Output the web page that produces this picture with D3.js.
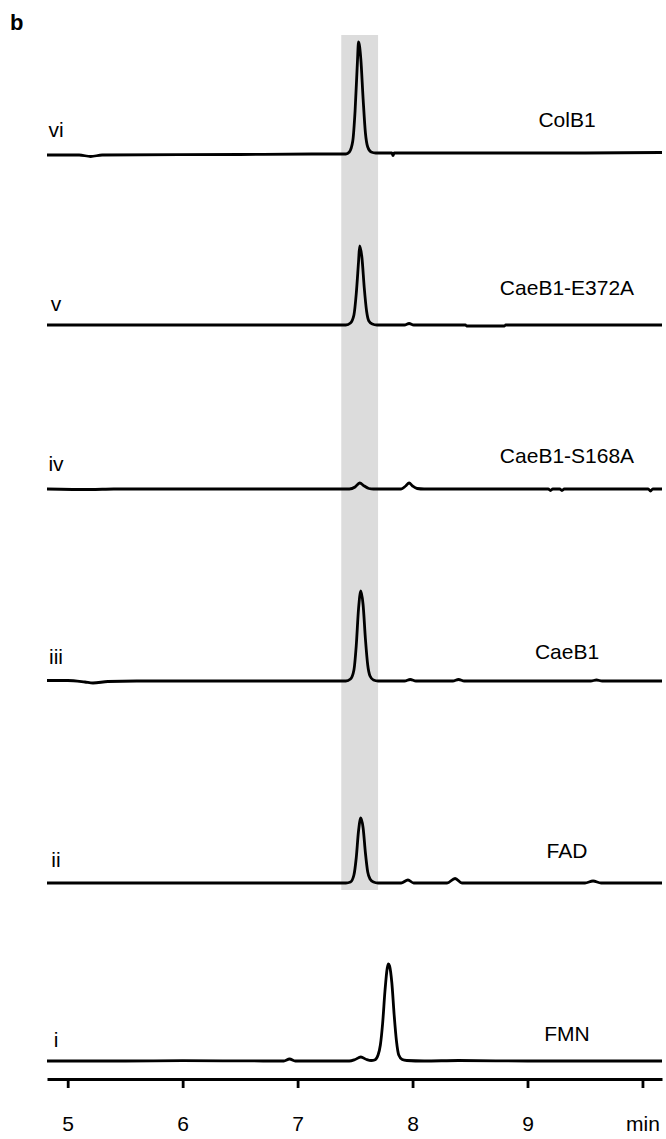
<!DOCTYPE html>
<html>
<head>
<meta charset="utf-8">
<script src="https://cdn.jsdelivr.net/npm/d3@7"></script>
<style>
  body { margin: 0; background: #fff; }
  text { font-family: "Liberation Sans", Arial, sans-serif; fill: #000; }
</style>
</head>
<body>
<script>
// retention time (min), signal above own baseline
const traceFMN = [[4.82,0],[5.5,0],[6.0,0.3],[6.7,0],[6.88,0],[6.93,2],[6.98,0],[7.45,0],[7.50,1.5],[7.55,4],[7.60,1.5],[7.64,0.5],[7.67,1],[7.70,6],[7.72,16],[7.74,38],[7.76,70],[7.78,93],[7.79,97],[7.80,95],[7.82,78],[7.84,46],[7.86,20],[7.88,6],[7.91,1.5],[7.95,0.5],[8.1,0],[8.4,0.5],[9,0],[10.17,0]];
const traceFAD = [[4.82,0],[5.2,0],[6,0],[7,0],[7.42,0],[7.46,1],[7.49,8],[7.51,25],[7.53,52],[7.55,65],[7.57,55],[7.59,30],[7.61,11],[7.63,4],[7.66,1],[7.70,0],[7.9,0],[7.96,3],[8.01,0],[8.3,0],[8.37,4.5],[8.43,0],[9.5,0],[9.57,2],[9.64,0],[10.17,0]];
const traceCaeB1 = [[4.82,0.5],[5.0,0.5],[5.15,-1],[5.22,-2],[5.35,-0.5],[5.6,0],[6.5,0],[7.42,0],[7.46,2],[7.49,11],[7.51,35],[7.53,72],[7.55,90],[7.57,76],[7.59,42],[7.61,16],[7.63,5],[7.66,1],[7.70,0],[7.93,0],[7.98,1.5],[8.03,0],[8.35,0],[8.40,1.5],[8.45,0],[9.55,0],[9.6,1],[9.65,0],[10.17,0]];
const traceS168A = [[4.82,0],[5.2,-0.5],[5.4,0],[7.45,0],[7.50,2],[7.54,6],[7.58,3],[7.62,0.5],[7.66,0],[7.90,0],[7.94,3],[7.97,6],[8.00,3],[8.04,0.5],[8.1,0],[9.18,0],[9.2,-1.5],[9.22,0],[9.28,0],[9.3,-1.5],[9.32,0],[10.05,0],[10.07,-2],[10.09,0],[10.17,0]];
const traceE372A = [[4.82,0],[6,0],[7.42,0],[7.46,2],[7.49,10],[7.51,31],[7.53,63],[7.54,79],[7.56,67],[7.58,37],[7.60,14],[7.62,4],[7.65,1],[7.69,0],[7.93,0],[7.97,1.5],[8.01,0],[8.46,0],[8.47,-1],[8.80,-1],[8.81,0],[10.17,0]];
const traceColB1 = [[4.82,0],[5.1,0],[5.2,-1.5],[5.3,0],[6.5,0.5],[7.2,1],[7.42,1],[7.45,3],[7.48,14],[7.50,44],[7.52,92],[7.53,113],[7.55,96],[7.57,56],[7.59,22],[7.61,8],[7.64,3],[7.68,2],[7.82,2],[7.83,-0.5],[7.84,2],[8.5,2],[9.5,2],[10.17,2.5]];

const traces = [traceFMN, traceFAD, traceCaeB1, traceS168A, traceE372A, traceColB1];
const romanLabels = ["i", "ii", "iii", "iv", "v", "vi"];
const sampleNames = ["FMN", "FAD", "CaeB1", "CaeB1-S168A", "CaeB1-E372A", "ColB1"];
const traceOffsets = [0, 178, 380, 572, 736, 906];
const highlightBand = [7.38, 7.70];
const tickValues = [5, 6, 7, 8, 9, 10];
const tickLabels = ["5", "6", "7", "8", "9", "min"];

const width = 666;
const height = 1139;
// how far each name sits above its trace
const nameLift = [20, 25, 22, 26, 30, 28];
const romanLift = [14, 16, 17, 18, 14, 18];

const svg = d3.select("body")
    .append("svg")
    .attr("width", width)
    .attr("height", height);

const x = d3.scaleLinear().domain([4.82, 10.17]).range([47, 662]);
const y = d3.scaleLinear().domain([0, 1021]).range([1061, 40]);

// shaded retention window
svg.append("rect")
    .attr("x", x(highlightBand[0]))
    .attr("width", x(highlightBand[1]) - x(highlightBand[0]))
    .attr("y", 35)
    .attr("height", 855)
    .style("fill", "#dcdcdc");

const line = d3.line()
    .x(d => x(d[0]))
    .y(d => y(d[1]))
    .curve(d3.curveMonotoneX);

svg.selectAll(".trace")
    .data(traces)
    .enter()
    .append("path")
    .attr("class", "trace")
    .attr("d", (d, i) => line(d.map(p => [p[0], p[1] + traceOffsets[i]])))
    .style("fill", "none")
    .style("stroke", "#000")
    .style("stroke-width", 2.8)
    .style("stroke-linejoin", "round");

svg.selectAll(".roman")
    .data(romanLabels)
    .enter()
    .append("text")
    .attr("class", "roman")
    .attr("x", 56)
    .attr("y", (d, i) => y(traceOffsets[i]) - romanLift[i])
    .attr("text-anchor", "middle")
    .style("font-size", "21px")
    .text(d => d);

svg.selectAll(".sample")
    .data(sampleNames)
    .enter()
    .append("text")
    .attr("class", "sample")
    .attr("x", 567)
    .attr("y", (d, i) => y(traceOffsets[i]) - nameLift[i])
    .attr("text-anchor", "middle")
    .style("font-size", "21px")
    .text(d => d);

// x axis
const axis = svg.append("g")
    .attr("transform", "translate(0,1079)")
    .call(d3.axisBottom(x)
        .tickValues(tickValues)
        .tickSize(9)
        .tickSizeOuter(0)
        .tickPadding(28)
        .tickFormat((d, i) => tickLabels[i]));

axis.select(".domain").style("stroke-width", 2.8);
axis.selectAll(".tick line").style("stroke-width", 2.8);
axis.selectAll(".tick text")
    .style("font-size", "21px")
    .style("font-family", "'Liberation Sans', Arial, sans-serif");

svg.append("text")
    .attr("x", 10)
    .attr("y", 30)
    .style("font-size", "22px")
    .style("font-weight", "bold")
    .text("b");
</script>
</body>
</html>
